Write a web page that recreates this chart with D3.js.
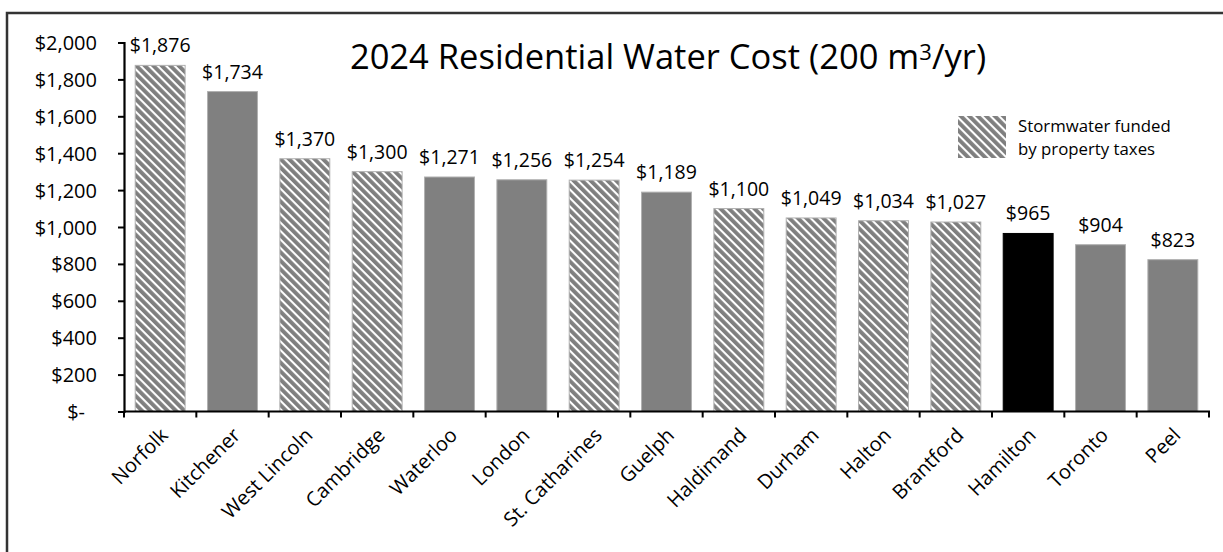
<!DOCTYPE html>
<html>
<head>
<meta charset="utf-8">
<script src="https://cdn.jsdelivr.net/npm/d3@7"></script>
<style>
  body { margin: 0; background: #fff; }
  text { font-family: "Open Sans", "Noto Sans", sans-serif; fill: #000; }
</style>
</head>
<body>
<svg id="chart" width="1223" height="552"></svg>
<script>
// data
var cities = ['Norfolk', 'Kitchener', 'West Lincoln', 'Cambridge', 'Waterloo', 'London',
  'St. Catharines', 'Guelph', 'Haldimand', 'Durham', 'Halton', 'Brantford', 'Hamilton', 'Toronto', 'Peel'];
var costs = [1876, 1734, 1370, 1300, 1271, 1256, 1254, 1189, 1100, 1049, 1034, 1027, 965, 904, 823];
// true = stormwater funded by property taxes (hatched)
var taxFunded = [true, false, true, true, false, false, true, false, true, true, true, true, false, false, false];
var yTicks = [0, 200, 400, 600, 800, 1000, 1200, 1400, 1600, 1800, 2000];
var highlight = 'Hamilton';

var svg = d3.select('#chart');

// outer frame (runs off the right and bottom edge)
svg.append('rect')
  .attr('x', 7).attr('y', 13)
  .attr('width', 1240).attr('height', 560)
  .attr('fill', 'none').attr('stroke', '#333').attr('stroke-width', 2.5);

// hatch pattern
var defs = svg.append('defs');
var pat = defs.append('pattern')
  .attr('id', 'hatch')
  .attr('patternUnits', 'userSpaceOnUse')
  .attr('width', 6).attr('height', 6)
  .attr('patternTransform', 'rotate(-45)');
pat.append('rect').attr('width', 6).attr('height', 6).attr('fill', '#fff');
pat.append('rect').attr('width', 3.9).attr('height', 6).attr('fill', '#7f7f7f');

var x = d3.scaleBand().domain(cities).range([124, 1209]).paddingInner(0.31).paddingOuter(0.155);
var y = d3.scaleLinear().domain([0, 2000]).range([411.5, 42.5]);

function money(v) { return v === 0 ? '$-' : '$' + d3.format(',')(v); }

// bars
svg.append('g').selectAll('rect')
  .data(cities)
  .join('rect')
  .attr('x', function(d){ return x(d); })
  .attr('y', function(d, i){ return y(costs[i]); })
  .attr('width', x.bandwidth())
  .attr('height', function(d, i){ return y(0) - y(costs[i]); })
  .attr('fill', function(d, i){
    if (d === highlight) return '#000';
    return taxFunded[i] ? 'url(#hatch)' : '#808080';
  })
  .attr('stroke', function(d){ return d === highlight ? '#000' : '#b0b0b0'; })
  .attr('stroke-width', 1);

// value labels
svg.append('g').selectAll('text')
  .data(cities)
  .join('text')
  .attr('x', function(d){ return x(d) + x.bandwidth() / 2; })
  .attr('y', function(d, i){ return y(costs[i]) - 13; })
  .attr('text-anchor', 'middle')
  .style('font-size', '19.5px')
  .text(function(d, i){ return money(costs[i]); });

// y axis
var yAxis = svg.append('g')
  .attr('transform', 'translate(124,0)')
  .call(d3.axisLeft(y).tickValues(yTicks).tickSize(6).tickPadding(20).tickFormat(money));
yAxis.select('.domain').attr('stroke', '#000').attr('stroke-width', 2.2);
yAxis.selectAll('.tick line').attr('stroke', '#000').attr('stroke-width', 2);
yAxis.selectAll('.tick text')
  .style('font-size', '20px')
  .style('font-family', '"Open Sans", "Noto Sans", sans-serif')
  .attr('dy', '0.35em')
  .attr('x', function(d){ return d === 0 ? -39 : -27; });

// x axis baseline with ticks at band edges
var xg = svg.append('g');
xg.append('line')
  .attr('x1', 124).attr('x2', 1210)
  .attr('y1', y(0)).attr('y2', y(0))
  .attr('stroke', '#000').attr('stroke-width', 2.2);
var step = x.step();
var first = x(cities[0]) - step * x.paddingInner() / 2;
xg.selectAll('line.tk')
  .data(d3.range(cities.length + 1))
  .join('line')
  .attr('class', 'tk')
  .attr('x1', function(i){ return first + i * step; })
  .attr('x2', function(i){ return first + i * step; })
  .attr('y1', y(0)).attr('y2', y(0) + 6)
  .attr('stroke', '#000').attr('stroke-width', 2);

// category labels, rotated
xg.selectAll('text')
  .data(cities)
  .join('text')
  .attr('text-anchor', 'end')
  .attr('transform', function(d){
    return 'translate(' + (x(d) + x.bandwidth() / 2 + 9) + ',' + (y(0) + 25) + ') rotate(-45)';
  })
  .style('font-size', '20px')
  .text(function(d){ return d; });

// title
var title = svg.append('text')
  .attr('x', 668).attr('y', 69)
  .attr('text-anchor', 'middle')
  .style('font-size', '34.5px');
title.append('tspan').text('2024 Residential Water Cost (200 m');
title.append('tspan').attr('baseline-shift', '40%').style('font-size', '22px').text('3');
title.append('tspan').text('/yr)');

// legend
var lg = svg.append('g').attr('transform', 'translate(958,116)');
lg.append('rect').attr('width', 48).attr('height', 42).attr('fill', 'url(#hatch)');
lg.append('text').attr('x', 60).attr('y', 16).style('font-size', '16.8px').text('Stormwater funded');
lg.append('text').attr('x', 60).attr('y', 39).style('font-size', '16.8px').text('by property taxes');
</script>
</body>
</html>
